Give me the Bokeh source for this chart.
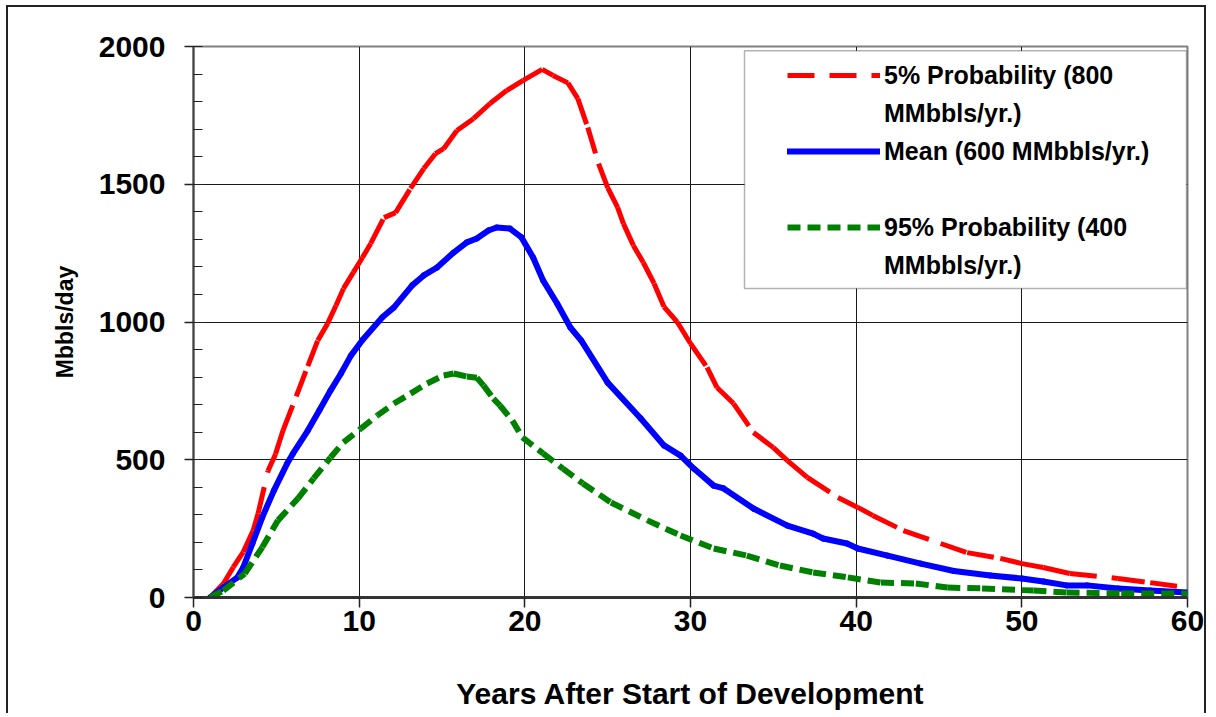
from bokeh.plotting import figure
from bokeh.models import (Legend, LegendItem, SingleIntervalTicker, BoxAnnotation, Range1d)
from bokeh.embed import file_html
from bokeh.resources import INLINE

# ---- data ----
years_p5 = [1.0, 1.8, 2.4, 3.0, 3.6, 3.9, 4.5, 4.95, 5.4, 6.2, 6.9, 7.5, 8.1, 8.6, 9.05, 9.65,
            10.2, 10.7, 11.5, 12.2, 13.1, 13.9, 14.6, 15.1, 15.9, 16.9, 17.9, 18.9, 19.9, 21.05,
            21.7, 22.6, 23.2, 23.8, 24.45, 25.0, 25.6, 25.95, 26.55, 27.15, 27.8, 28.4, 29.2,
            30.0, 31.0, 31.6, 32.6, 33.8, 35.0, 35.85, 37.05, 38.9, 40.1, 41.0, 42.85, 45.1,
            46.7, 48.7, 50.0, 51.3, 52.9, 55.8, 57.75, 60.0]
mbd_p5 = [0, 50, 110, 165, 243, 305, 460, 520, 606, 730, 840, 933, 995, 1060, 1121, 1180,
          1234, 1285, 1379, 1397, 1485, 1557, 1611, 1629, 1695, 1738, 1793, 1840, 1877, 1917,
          1895, 1868, 1811, 1706, 1575, 1488, 1416, 1357, 1278, 1216, 1140, 1055, 1000,
          922, 835, 762, 704, 599, 544, 497, 436, 363, 327, 298, 243, 196,
          163, 142, 123, 109, 87, 69, 54, 36]

years_mean = [1.0, 1.8, 2.65, 3.0, 3.55, 4.15, 4.85, 5.65, 6.0, 6.9, 7.6, 8.27, 8.9, 9.5, 10.2,
              11.4, 12.1, 13.2, 13.9, 14.7, 15.7, 16.5, 17.1, 17.8, 18.3, 19.1, 19.8, 20.5,
              21.1, 21.95, 22.75, 23.4, 25.0, 27.0, 28.4, 29.4, 30.2, 31.4, 32.0, 33.8, 35.85,
              37.4, 38.0, 39.45, 40.1, 41.9, 43.9, 45.9, 48.1, 50.0, 51.3, 52.7, 53.95, 55.8,
              57.75, 60.0]
mbd_mean = [0, 36, 73, 109, 195, 291, 388, 486, 522, 606, 680, 751, 813, 878, 935,
            1017, 1053, 1133, 1169, 1198, 1252, 1289, 1303, 1332, 1343, 1339, 1307, 1234,
            1151, 1067, 980, 933, 780, 650, 552, 515, 468, 406, 396, 323, 261,
            232, 214, 196, 178, 152, 123, 96, 80, 69, 58, 44, 44, 33,
            25, 18]

years_p95 = [1.0, 1.8, 3.1, 4.15, 5.1, 6.3, 7.25, 8.27, 9.05, 10.1, 11.1, 12.1, 13.1, 14.1,
             15.1, 15.7, 16.5, 17.1, 17.5, 18.1, 18.5, 19.25, 19.85, 21.1, 22.3, 23.5, 25.2,
             27.4, 29.4, 31.4, 33.4, 35.4, 37.4, 39.5, 41.5, 43.6, 45.5, 47.6, 50.7, 52.7,
             56.0, 60.0]
mbd_p95 = [0, 25, 87, 182, 280, 359, 432, 508, 563, 613, 661, 704, 740, 777,
           806, 813, 802, 798, 770, 722, 697, 642, 581, 523, 468, 414, 345,
           280, 225, 178, 152, 116, 91, 73, 54, 51, 36, 33, 25, 18,
           15, 14]

# legend text, one entry per printed line (the original wraps long labels)
legend_lines_p5 = ["5% Probability (800", "MMbbls/yr.)"]
legend_lines_mean = ["Mean (600 MMbbls/yr.)", " "]
legend_lines_p95 = ["95% Probability (400", "MMbbls/yr.)"]
x_label = "Years After Start of Development"
y_label = "Mbbls/day"

FONT = "Liberation Sans"


def segments(xs, ys):
    """Split a series into consecutive two-point segments (dash pattern restarts per segment)."""
    sx = [[xs[i], xs[i + 1]] for i in range(len(xs) - 1)]
    sy = [[ys[i], ys[i + 1]] for i in range(len(ys) - 1)]
    return sx, sy


p = figure(width=1200, height=708,
           x_range=Range1d(0, 60), y_range=Range1d(0, 2000),
           output_backend="svg", toolbar_location=None,
           min_border_left=185, min_border_right=21,
           min_border_top=39, min_border_bottom=118)
p.styles = {"margin-left": "6px", "margin-top": "5px",
            "border-left": "2px solid #222", "border-top": "2px solid #222",
            "border-right": "2px solid #222"}

p.background_fill_color = "white"
p.border_fill_color = "white"
p.outline_line_color = "#808080"
p.outline_line_width = 2

# axes
p.xaxis.ticker = SingleIntervalTicker(interval=10, num_minor_ticks=0)
p.yaxis.ticker = SingleIntervalTicker(interval=500, num_minor_ticks=5)
for ax in (p.xaxis, p.yaxis):
    ax.major_label_text_font = FONT
    ax.major_label_text_font_style = "bold"
    ax.major_label_text_font_size = "30px"
    ax.major_label_text_color = "black"
    ax.axis_label_text_font = FONT
    ax.axis_label_text_font_style = "bold"
    ax.axis_label_text_color = "black"
    ax.major_tick_line_color = "#222"
    ax.major_tick_line_width = 1.5
    ax.minor_tick_line_color = "#222"
    ax.major_tick_in = 0

p.xaxis.axis_line_color = "#333"
p.xaxis.axis_line_width = 3
p.xaxis.major_tick_out = 10
p.xaxis.minor_tick_line_color = None
p.xaxis.major_label_standoff = 3
p.xaxis.axis_label = x_label
p.xaxis.axis_label_text_font_size = "30px"
p.xaxis.axis_label_standoff = 43

p.yaxis.axis_line_color = "#444"
p.yaxis.axis_line_width = 2
p.yaxis.major_tick_out = 9
p.yaxis.minor_tick_in = 9
p.yaxis.minor_tick_out = 0
p.yaxis.major_label_standoff = 19
p.yaxis.axis_label = y_label
p.yaxis.axis_label_text_font_size = "23px"
p.yaxis.axis_label_standoff = 18

p.grid.grid_line_color = "#1a1a1a"
p.grid.grid_line_width = 1

# series (drawn segment by segment so the dash pattern restarts like the original)
rx, ry = segments(years_p5, mbd_p5)
r_p5 = p.multi_line(rx, ry, line_color="#FF0000", line_width=5, line_dash="27 15")
bx, by = segments(years_mean, mbd_mean)
r_mean = p.multi_line(bx, by, line_color="#0000FF", line_width=6, line_cap="round",
                      line_join="round")
gx, gy = segments(years_p95, mbd_p95)
r_p95 = p.multi_line(gx, gy, line_color="#008000", line_width=6, line_dash="13 7")

# legend frame
box = BoxAnnotation(left=33.26, right=59.94, bottom=1122, top=1985,
                    fill_color="white", fill_alpha=1.0,
                    line_color="black", line_width=1.5)
p.add_layout(box)

items = []
for lines, r in ((legend_lines_p5, r_p5), (legend_lines_mean, r_mean),
                 (legend_lines_p95, r_p95)):
    items.append(LegendItem(label=lines[0], renderers=[r]))
    items.append(LegendItem(label=lines[1], renderers=[]))

legend = Legend(items=items,
                location=(594, 317), margin=0, padding=0, spacing=8,
                glyph_width=93, glyph_height=30, label_height=30,
                label_standoff=4, label_width=260,
                label_text_font=FONT, label_text_font_style="bold",
                label_text_font_size="25px", label_text_baseline="middle",
                label_text_color="black",
                background_fill_alpha=0, border_line_alpha=0)
p.add_layout(legend)

open("out.html", "w").write(file_html(p, INLINE))
